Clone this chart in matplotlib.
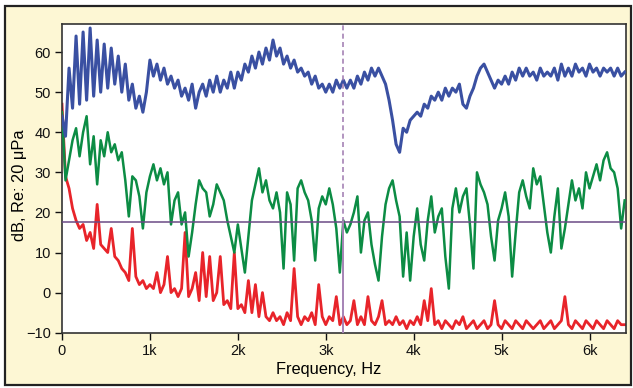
import numpy as np
import matplotlib
matplotlib.use("Agg")
import matplotlib.pyplot as plt
from matplotlib.patches import Rectangle

plt.rcParams['font.family'] = ['Liberation Sans', 'DejaVu Sans']

# spectra sampled every 40 Hz, 0 .. 6400 Hz (values in dB re 20 uPa)
freq_step = 40

blue_db = [
    44, 39, 56, 46, 64, 47, 65, 48, 66, 49,
    63, 50, 62, 51, 61, 52, 59, 50, 57, 48,
    52, 46, 49, 45, 50, 58, 54, 57, 53, 56,
    52, 54, 51, 53, 49, 51, 48, 52, 46, 50,
    52, 49, 53, 50, 54, 50, 53, 51, 55, 51,
    55, 53, 57, 55, 59, 56, 60, 57, 61, 58,
    63, 59, 61, 57, 59, 56, 58, 55, 56, 54,
    55, 52, 54, 51, 52, 50, 52, 50, 53, 51,
    53, 51, 53, 51, 54, 52, 55, 53, 56, 54,
    56, 54, 52, 48, 43, 37, 35, 41, 40, 43,
    44, 45, 44, 47, 46, 49, 48, 50, 48, 51,
    49, 51, 50, 52, 47, 46, 49, 51, 54, 56,
    57, 55, 53, 51, 53, 52, 54, 52, 55, 53,
    56, 54, 56, 54, 55, 53, 56, 54, 55, 54,
    56, 53, 57, 54, 56, 54, 57, 55, 56, 54,
    57, 55, 56, 54, 56, 55, 56, 54, 56, 54,
    55,
]

green_db = [
    45, 28, 33, 38, 41, 34, 40, 44, 32, 39,
    27, 38, 34, 40, 35, 37, 33, 35, 28, 19,
    29, 28, 24, 16, 25, 29, 32, 28, 31, 27,
    30, 17, 23, 25, 17, 20, 9, 15, 22, 28,
    26, 25, 19, 22, 27, 25, 23, 18, 14, 10,
    17, 11, 5, 14, 23, 27, 31, 25, 28, 23,
    21, 25, 20, 6, 25, 22, 8, 26, 28, 25,
    23, 18, 8, 21, 24, 22, 26, 22, 16, 5,
    18, 15, 17, 20, 24, 10, 18, 20, 12, 7,
    3, 14, 22, 26, 28, 23, 19, 4, 15, 3,
    14, 21, 12, 8, 18, 24, 15, 19, 21, 9,
    1, 21, 26, 20, 24, 26, 17, 6, 30, 27,
    25, 22, 14, 8, 18, 21, 25, 19, 4, 15,
    25, 28, 24, 21, 31, 27, 29, 22, 15, 10,
    19, 26, 11, 16, 22, 28, 23, 26, 21, 30,
    26, 29, 32, 28, 33, 35, 31, 30, 26, 16,
    23,
]

red_db = [
    47, 29, 26, 21, 18, 16, 17, 13, 15, 11,
    22, 12, 11, 10, 16, 9, 8, 6, 5, 3,
    16, 4, 2, 3, 1, 2, 1, 5, 0, 2,
    9, 0, 1, -1, 1, 15, -1, 1, 5, -2,
    10, -1, 9, -2, 0, 9, -3, -2, -4, 10,
    -4, -3, -5, 3, -5, 2, -6, 0, -6, -7,
    -5, -7, -6, -8, -5, -7, 6, -6, -8, -6,
    -7, -5, -8, 2, -6, -8, -6, -7, -1, -8,
    -6, -8, -7, -2, -8, -6, -8, -1, -7, -8,
    -6, -2, -8, -7, -8, -6, -8, -7, -9, -7,
    -8, -6, -8, -2, -7, 1, -8, -7, -9, -7,
    -8, -9, -7, -8, -6, -9, -8, -7, -9, -8,
    -7, -9, -8, -2, -8, -9, -7, -8, -9, -7,
    -8, -9, -7, -8, -9, -8, -7, -9, -8, -7,
    -9, -8, -7, -1, -8, -9, -7, -8, -9, -7,
    -8, -9, -7, -8, -9, -7, -8, -9, -7, -8,
    -8,
]

x_ticks = [0, 1000, 2000, 3000, 4000, 5000, 6000]
x_tick_labels = ["0", "1k", "2k", "3k", "4k", "5k", "6k"]
y_ticks = [-10, 0, 10, 20, 30, 40, 50, 60]

cursor_freq = 3200   # vertical cursor, Hz
cursor_level = 17.5  # horizontal cursor, dB

freqs = np.arange(len(blue_db)) * freq_step

fig = plt.figure(figsize=(6.33, 3.88), dpi=100, facecolor='white')
# cream panel with black frame, kept behind the axes
fig.patches.append(Rectangle((5 / 633, 3 / 388), 626 / 633, 379 / 388,
                             transform=fig.transFigure, facecolor='#fdf7d4',
                             edgecolor='#222222', linewidth=1.6, zorder=-10))

ax = fig.add_axes([62 / 633, 55.3 / 388, 564 / 633, 308.7 / 388])
ax.set_zorder(1)
ax.set_facecolor('white')

ax.plot(freqs, red_db, color='#e8242a', linewidth=2.0, zorder=2)
ax.plot(freqs, green_db, color='#0c8c44', linewidth=1.8, zorder=3)
ax.plot(freqs, blue_db, color='#3a50a2', linewidth=2.2, zorder=4)

# cursors
ax.axhline(cursor_level, color='#6b4a85', linewidth=1.1, zorder=5)
ax.plot([cursor_freq, cursor_freq], [cursor_level, 70], color='#a583b5',
        linewidth=1.2, linestyle=(0, (3, 2)), zorder=5)
ax.plot([cursor_freq, cursor_freq], [-10, cursor_level], color='#a583b5',
        linewidth=1.4, zorder=5)

ax.set_xlim(0, 6415)
ax.set_ylim(-10, 67)
ax.set_xticks(x_ticks)
ax.set_xticklabels(x_tick_labels)
ax.set_yticks(y_ticks)
ax.tick_params(direction='out', length=5, width=1, labelsize=10.5,
               colors='#111111', pad=3)
for s in ax.spines.values():
    s.set_linewidth(1.2)
    s.set_color('#333333')

ax.set_xlabel("Frequency, Hz", fontsize=11.8)
ax.set_ylabel("dB, Re: 20 μPa", fontsize=11.8)
ax.xaxis.set_label_coords(0.472, -0.094)
ax.yaxis.set_label_coords(-0.062, 0.479)

fig.savefig("out.png", dpi=100, facecolor=fig.get_facecolor())
